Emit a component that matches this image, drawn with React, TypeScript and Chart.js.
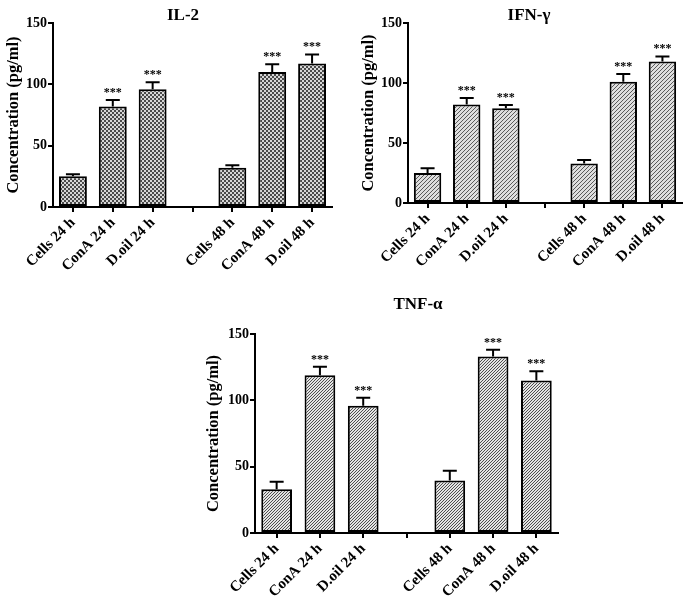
import React, { useEffect, useRef } from 'react';
import { Chart, registerables } from 'chart.js';

Chart.register(...registerables);

const categories = ['Cells 24 h', 'ConA 24 h', 'D.oil 24 h', '', 'Cells 48 h', 'ConA 48 h', 'D.oil 48 h'];
const yMin = 0;
const yMax = 150;
const yStep = 50;
const il2Values = [25, 82, 96, null, 32, 110, 117];
const il2Errors = [1.8, 5.3, 5.6, null, 2, 6.3, 7.4];
const ifnValues = [25, 82, 79, null, 33, 101, 118];
const ifnErrors = [4, 5.5, 2.7, null, 2.8, 6.4, 4.1];
const tnfValues = [33, 119, 96, null, 39.5, 133, 115];
const tnfErrors = [5.7, 6.3, 6, null, 7.5, 5.2, 7];
const significance = ['', '***', '***', '', '', '***', '***'];
const yAxisTitle = 'Concentration (pg/ml)';

const FONT = '"Liberation Serif", "Times New Roman", serif';

function makePattern(ctx: CanvasRenderingContext2D, kind: string) {
  const c = document.createElement('canvas');
  const t = c.getContext('2d') as CanvasRenderingContext2D;
  if (kind === 'check') {
    c.width = 4; c.height = 4;
    t.fillStyle = '#d6d6d6'; t.fillRect(0, 0, 4, 4);
    t.fillStyle = '#4a4a4a'; t.fillRect(0, 0, 2, 2); t.fillRect(2, 2, 2, 2);
  } else if (kind === 'dash') {
    c.width = 4; c.height = 4;
    t.fillStyle = '#dedede'; t.fillRect(0, 0, 4, 4);
    t.fillStyle = '#5a5a5a';
    t.fillRect(1, 0, 1, 1); t.fillRect(0, 1, 1, 1); t.fillRect(3, 2, 1, 1); t.fillRect(2, 3, 1, 1);
  } else {
    c.width = 3; c.height = 3;
    t.fillStyle = '#e4e4e4'; t.fillRect(0, 0, 3, 3);
    t.fillStyle = '#4e4e4e';
    t.fillRect(2, 0, 1, 1); t.fillRect(1, 1, 1, 1); t.fillRect(0, 2, 1, 1);
  }
  return ctx.createPattern(c, 'repeat') as CanvasPattern;
}

const annotatePlugin = {
  id: 'annotate',
  afterDatasetsDraw(chart: any, _args: any, opts: any) {
    const { ctx } = chart;
    const y = chart.scales.y;
    const meta = chart.getDatasetMeta(0);
    const values = chart.data.datasets[0].data;
    ctx.save();
    ctx.strokeStyle = '#000';
    ctx.lineWidth = 2;
    ctx.fillStyle = '#000';
    meta.data.forEach((bar: any, i: number) => {
      const v = values[i];
      const e = opts.errors[i];
      if (v == null || e == null) return;
      const top = y.getPixelForValue(v + e);
      const base = y.getPixelForValue(v);
      ctx.beginPath();
      ctx.moveTo(bar.x, base);
      ctx.lineTo(bar.x, top);
      ctx.moveTo(bar.x - opts.capHalf, top);
      ctx.lineTo(bar.x + opts.capHalf, top);
      ctx.stroke();
      const s = opts.stars[i];
      if (s) {
        ctx.font = `bold 12px ${FONT}`;
        ctx.textAlign = 'center';
        ctx.textBaseline = 'alphabetic';
        ctx.fillText(s, bar.x, top - 4);
      }
    });
    ctx.font = `bold 17px ${FONT}`;
    ctx.textAlign = 'center';
    ctx.textBaseline = 'middle';
    ctx.fillText(opts.title, opts.titleX, opts.titleY);
    ctx.restore();
  },
};

type PanelCfg = {
  title: string;
  values: (number | null)[];
  errors: (number | null)[];
  pattern: string;
  left: number; top: number; w: number; h: number;
  padRight: number; padTop: number;
  yWidth: number; xHeight: number; yTitlePad: number;
  titleX: number; titleY: number;
  barPct: number;
};

function Panel({ cfg }: { cfg: PanelCfg }) {
  const ref = useRef<HTMLCanvasElement | null>(null);
  useEffect(() => {
    const canvas = ref.current as HTMLCanvasElement;
    const ctx = canvas.getContext('2d') as CanvasRenderingContext2D;
    const fill = makePattern(ctx, cfg.pattern);
    const chart = new Chart(canvas, {
      type: 'bar',
      data: {
        labels: categories,
        datasets: [{
          data: cfg.values as any,
          backgroundColor: fill as any,
          borderColor: '#000',
          borderWidth: 2,
          borderSkipped: false,
          barPercentage: cfg.barPct,
          categoryPercentage: 1,
        }],
      },
      options: {
        responsive: false,
        animation: false,
        layout: { padding: { left: 0, right: cfg.padRight, top: cfg.padTop, bottom: 0 } },
        plugins: {
          legend: { display: false },
          tooltip: { enabled: false },
          annotate: {
            errors: cfg.errors,
            stars: significance,
            capHalf: 7,
            title: cfg.title,
            titleX: cfg.titleX,
            titleY: cfg.titleY,
          },
        } as any,
        scales: {
          x: {
            offset: true,
            grid: { offset: false, drawOnChartArea: false, drawTicks: true, tickLength: 5, color: '#000', lineWidth: 2 },
            border: { display: true, color: '#000', width: 2 },
            ticks: {
              autoSkip: false,
              minRotation: 45,
              maxRotation: 45,
              color: '#000',
              padding: 2,
              font: { family: FONT, size: 15, weight: 'bold' },
            },
            afterFit: (s: any) => { s.height = cfg.xHeight; },
          },
          y: {
            min: yMin,
            max: yMax,
            grid: { drawOnChartArea: false, drawTicks: true, tickLength: 5, color: '#000', lineWidth: 2 },
            border: { display: true, color: '#000', width: 2 },
            ticks: {
              stepSize: yStep,
              color: '#000',
              padding: 1,
              font: { family: FONT, size: 14, weight: 'bold' },
            },
            title: {
              display: true,
              text: yAxisTitle,
              color: '#000',
              padding: { top: cfg.yTitlePad, bottom: 0 },
              font: { family: FONT, size: 16.5, weight: 'bold' },
            },
            afterFit: (s: any) => { s.width = cfg.yWidth; },
          },
        },
      } as any,
      plugins: [annotatePlugin],
    });
    return () => chart.destroy();
  }, [cfg]);
  return (
    <div style={{ position: 'absolute', left: cfg.left, top: cfg.top, width: cfg.w, height: cfg.h }}>
      <canvas ref={ref} width={cfg.w} height={cfg.h} style={{ width: cfg.w, height: cfg.h, display: 'block' }} />
    </div>
  );
}

const panels: PanelCfg[] = [
  {
    title: 'IL-2', values: il2Values, errors: il2Errors, pattern: 'check',
    left: 0, top: 0, w: 340, h: 300, padRight: 8, padTop: 23,
    yWidth: 53, xHeight: 93, yTitlePad: 4, titleX: 183, titleY: 15.5, barPct: 0.7,
  },
  {
    title: 'IFN-γ', values: ifnValues, errors: ifnErrors, pattern: 'dash',
    left: 345, top: 0, w: 340, h: 300, padRight: 3, padTop: 23,
    yWidth: 63, xHeight: 97, yTitlePad: 14, titleX: 184, titleY: 16, barPct: 0.7,
  },
  {
    title: 'TNF-α', values: tnfValues, errors: tnfErrors, pattern: 'diag',
    left: 190, top: 295, w: 380, h: 305, padRight: 12, padTop: 39,
    yWidth: 65, xHeight: 67, yTitlePad: 14, titleX: 228, titleY: 10, barPct: 0.71,
  },
];

export default function App() {
  return (
    <div style={{ position: 'absolute', left: 0, top: 0, width: 685, height: 600, background: '#fff', overflow: 'hidden' }}>
      {panels.map((p) => <Panel key={p.title} cfg={p} />)}
    </div>
  );
}
